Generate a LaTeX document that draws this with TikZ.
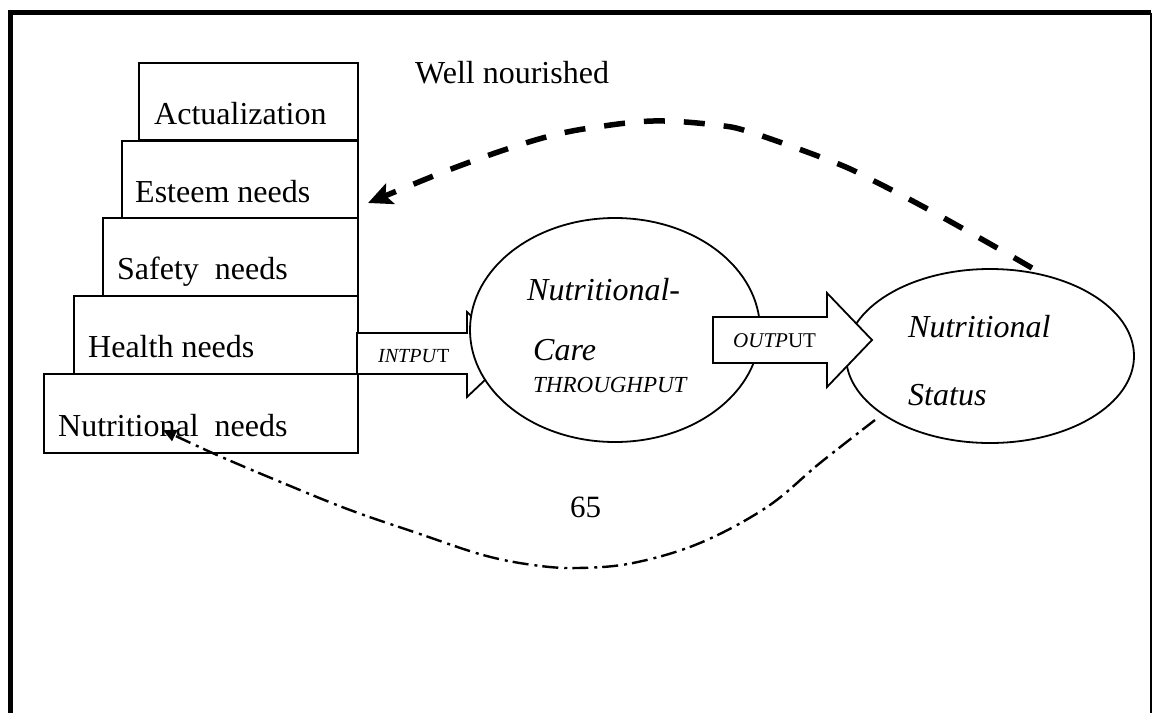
\documentclass[tikz,border=0pt]{standalone}
\usepackage{fontspec}
\setmainfont{Liberation Serif}
\usetikzlibrary{shapes.geometric,arrows.meta}
\begin{document}
\begin{tikzpicture}[x=1pt,y=-1pt,
  stepbox/.style={draw, line width=1.8pt, rectangle, inner sep=0pt, anchor=north west},
  ell/.style={draw, line width=1.8pt, ellipse, inner sep=0pt, fill=white},
  blockarrow/.style={draw, line width=1.8pt, fill=white, line join=miter},
  lbl/.style={anchor=base west, inner sep=0pt, font=\fontsize{32}{38}\selectfont},
  smalllbl/.style={anchor=base west, inner sep=0pt, font=\fontsize{20}{24}\selectfont},
  bigdash/.style={line width=5.5pt, dash pattern=on 21pt off 19pt, -{Stealth[length=24pt,width=22pt,inset=5pt]}},
  dashdot/.style={line width=2.4pt, dash pattern=on 16pt off 5pt on 3pt off 6pt, -{Triangle[length=13pt,width=12pt]}}
]
\useasboundingbox (0,0) rectangle (1152,713);
\fill[white] (0,0) rectangle (1152,713);
% frame
\draw[line width=5pt, line join=miter] (10.8,713) -- (10.8,12.5) -- (1151,12.5);
\draw[line width=2pt] (1150.5,12.5) -- (1150.5,713);
% steps
\node[stepbox, minimum width=219pt, minimum height=77pt] (act) at (138,62) {};
\node[stepbox, minimum width=236pt, minimum height=77pt] (est) at (121,140) {};
\node[stepbox, minimum width=255pt, minimum height=78pt] (saf) at (102,217) {};
\node[stepbox, minimum width=284pt, minimum height=78pt] (hea) at (73,295) {};
\node[stepbox, minimum width=314pt, minimum height=79pt] (nut) at (43,373) {};
\node[lbl] (actT) at (154,124) {Actualization};
\node[lbl] (estT) at (135,202) {Esteem needs};
\node[lbl] (safT) at (117,279) {Safety\ \ needs};
\node[lbl] (heaT) at (88,357) {Health needs};
\node[lbl] (nutT) at (58,436) {Nutritional\ \ needs};
% input arrow
\draw[blockarrow] (357,333) -- (467,333) -- (467,312) -- (512,354.5) -- (467,397) -- (467,374) -- (357,374) -- cycle;
% ellipses
\node[ell, minimum width=290pt, minimum height=224pt] (care) at (615,330) {};
\node[ell, minimum width=288pt, minimum height=174pt] (status) at (990,356) {};
% output arrow
\draw[blockarrow] (713,317) -- (827,317) -- (827,293) -- (872,340) -- (827,387) -- (827,363) -- (713,363) -- cycle;
% texts
\node[lbl] (wn) at (415,83) {Well nourished};
\node[lbl] (careA) at (527,300) {\textit{Nutritional}-};
\node[lbl] (careB) at (533,360) {\textit{Care}};
\node[anchor=base west, inner sep=0pt, font=\fontsize{23}{27}\selectfont] (careC) at (533,392) {\textit{THROUGHPUT}};
\node[smalllbl] (inT) at (378,362) {\textit{INTPU}T};
\node[anchor=base west, inner sep=0pt, font=\fontsize{21}{25}\selectfont] (outT) at (733,347) {\textit{OUTP}UT};
\node[lbl] (stA) at (908,337) {\textit{Nutritional}};
\node[lbl] (stB) at (908,405) {\textit{Status}};
\node[anchor=base west, inner sep=0pt, font=\fontsize{31}{36}\selectfont] (pg) at (570,517) {65};
% feedback curves
\coordinate (wnS) at (1032,268);
\coordinate (wnE) at (368,203);
\draw[bigdash] plot[smooth, tension=0.6] coordinates {(wnS) (985,241) (922,206) (874,181) (836,163) (753,133) (716,125) (653,121) (590,128) (550,136) (510,148) (470,162) (431,177) (wnE)};
\coordinate (ddS) at (875,420);
\coordinate (ddE) at (163,430);
\draw[dashdot] plot[smooth, tension=0.6] coordinates {(ddS) (820,463) (767,507) (700,543) (633,563) (577,568) (533,565) (483,555) (417,533) (350,510) (283,483) (217,455) (ddE)};
\end{tikzpicture}
\end{document}
